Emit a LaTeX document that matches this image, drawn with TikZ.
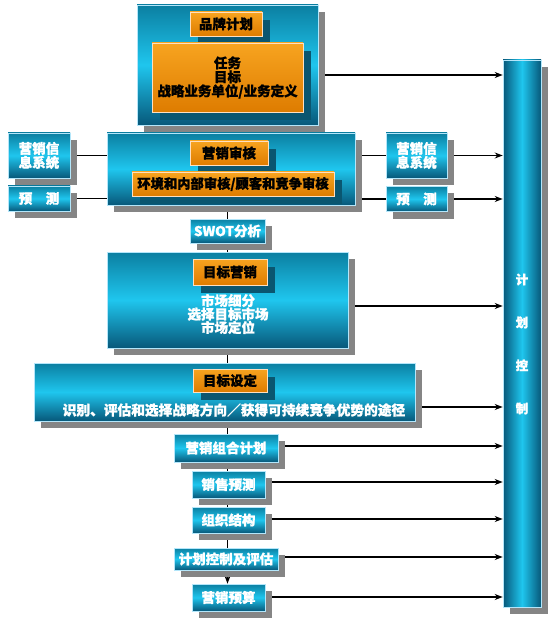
\documentclass[tikz,border=0pt]{standalone}
\usepackage{fontspec}
\setmainfont{Noto Sans CJK SC}[BoldFeatures={FakeBold=1.2}]
\usetikzlibrary{shadows,arrows.meta,backgrounds}
\definecolor{cTop}{HTML}{0B7FA1}
\definecolor{cMid}{HTML}{1FC6EE}
\definecolor{cBot}{HTML}{07587A}
\definecolor{oTop}{HTML}{F7A420}
\definecolor{oBot}{HTML}{DE7C00}
\definecolor{tealShadow}{HTML}{0A5670}
\definecolor{gShadow}{HTML}{858585}
\tikzset{
  cbox/.style={draw=white!70!cyan, line width=0.6pt, top color=cTop, bottom color=cBot, middle color=cMid,
    text=white, font=\bfseries\fontsize{13.5}{14}\selectfont, align=center, inner sep=0pt,
    drop shadow={shadow xshift=7pt, shadow yshift=-7pt, fill=gShadow, opacity=1}},
  obox/.style={draw=white!75!orange, line width=0.8pt, top color=oTop, bottom color=oBot,
    text=black, font=\bfseries\fontsize{13.5}{14}\selectfont, align=center, inner sep=0pt,
    drop shadow={shadow xshift=8pt, shadow yshift=-8pt, fill=tealShadow, opacity=1}},
  wtext/.style={text=white, font=\bfseries\fontsize{13.5}{13.5}\selectfont, align=center, inner sep=0pt},
  conn/.style={line width=1.6pt, black},
  arr/.style={conn, -{Stealth[length=8pt,width=6pt]}},
}
\begin{document}
\begin{tikzpicture}[x=1pt,y=-1pt]
\useasboundingbox (0,0) rectangle (554,620);
% right bar
\node[cbox, left color=cBot, right color=cBot, middle color=cMid, minimum width=38pt, minimum height=547pt] (bar) at (522,333.5) {};
\node[wtext, font=\bfseries\fontsize{12.5}{43}\selectfont] (bartext) at (522,344) {计\\划\\控\\制};
% brand plan
\node[cbox, minimum width=181pt, minimum height=120pt] (brand) at (227.5,65) {};
\node[obox, minimum width=72pt, minimum height=24pt] (bl) at (226,24) {品牌计划};
\node[obox, minimum width=151pt, minimum height=69pt] (bi) at (227.5,77.5) {任务\\目标\\战略业务单位/业务定义};
% audit
\node[cbox, minimum width=248pt, minimum height=72pt] (audit) at (231,169) {};
\node[obox, minimum width=78pt, minimum height=24pt] (al) at (229,153) {营销审核};
\node[obox, minimum width=202pt, minimum height=24pt, font=\bfseries\fontsize{13.3}{13.5}\selectfont] (ai) at (233,184) {环境和内部审核/顾客和竞争审核};
% side boxes
\node[cbox, minimum width=62pt, minimum height=45pt] (lis) at (39,155.5) {营销信\\息系统};
\node[cbox, minimum width=62pt, minimum height=25pt] (lfc) at (39,198.5) {预\quad 测};
\node[cbox, minimum width=61pt, minimum height=45pt] (ris) at (416.5,155.5) {营销信\\息系统};
\node[cbox, minimum width=61pt, minimum height=25pt] (rfc) at (416.5,199) {预\quad 测};
% SWOT
\node[cbox, minimum width=75pt, minimum height=24pt] (swot) at (227.5,231) {SWOT分析};
% target marketing
\node[cbox, minimum width=241pt, minimum height=96pt] (tm) at (227.5,300) {};
\node[obox, minimum width=74pt, minimum height=26pt] (tml) at (230,272) {目标营销};
\node[wtext] (tmt) at (228,314) {市场细分\\选择目标市场\\市场定位};
% target setting
\node[cbox, minimum width=381pt, minimum height=58pt] (ts) at (224.5,392) {};
\node[obox, minimum width=74pt, minimum height=23pt] (tsl) at (230,380.5) {目标设定};
\node[wtext, font=\bfseries\fontsize{13.7}{14}\selectfont] (tst) at (234,410) {识别、评估和选择战略方向／获得可持续竞争优势的途径};
% bottom chain
\node[cbox, minimum width=104pt, minimum height=28pt] (mix) at (226,448) {营销组合计划};
\node[cbox, minimum width=73pt, minimum height=27pt] (sf) at (228.5,484.5) {销售预测};
\node[cbox, minimum width=73pt, minimum height=26pt] (org) at (228.5,520) {组织结构};
\node[cbox, minimum width=104pt, minimum height=22pt] (pc) at (226,559) {计划控制及评估};
\node[cbox, minimum width=73pt, minimum height=27pt] (bud) at (228.5,597.5) {营销预算};
% connectors
\begin{scope}[on background layer]
  \coordinate (b1) at ([yshift=-10pt]brand.east);
  \draw[arr] (b1) -- (b1 -| bar.west);
  \coordinate (t1) at ([yshift=-6pt]tm.east);
  \draw[arr] (t1) -- (t1 -| bar.west);
  \coordinate (s1) at ([yshift=-15pt]ts.east);
  \draw[arr] (s1) -- (s1 -| bar.west);
  \foreach \n/\d in {mix/2,sf/2.5,org/1,pc/2,bud/0.5}{
    \coordinate (\n c) at ([yshift=\d pt]\n.east);
    \draw[arr] (\n c) -- (\n c -| bar.west);
  }
  \draw[arr] (ris.east) -- (ris.east -| bar.west);
  \draw[arr] (rfc.east) -- (rfc.east -| bar.west);
  \draw[conn] (lis.east) -- (lis.east -| audit.west);
  \draw[conn] (lfc.east) -- (lfc.east -| audit.west);
  \draw[conn] (ris.west -| audit.east) -- (ris.west);
  \draw[conn] (rfc.west -| audit.east) -- (rfc.west);
  \draw[conn] (swot.north |- brand.south) -- (swot.north |- audit.north);
  \draw[conn] (swot.north |- audit.south) -- (swot.north);
  \draw[conn] (swot.south) -- (swot.south |- tm.north);
  \draw[conn] (swot.south |- tm.south) -- (swot.south |- ts.north);
  \draw[conn] (swot.south |- ts.south) -- (swot.south |- mix.north);
  \draw[conn] (swot.south |- mix.south) -- (swot.south |- sf.north);
  \draw[conn] (swot.south |- sf.south) -- (swot.south |- org.north);
  \draw[conn] (swot.south |- org.south) -- (swot.south |- pc.north);
  \draw[arr] (swot.south |- pc.south) -- (swot.south |- bud.north);
\end{scope}
\end{tikzpicture}
\end{document}
